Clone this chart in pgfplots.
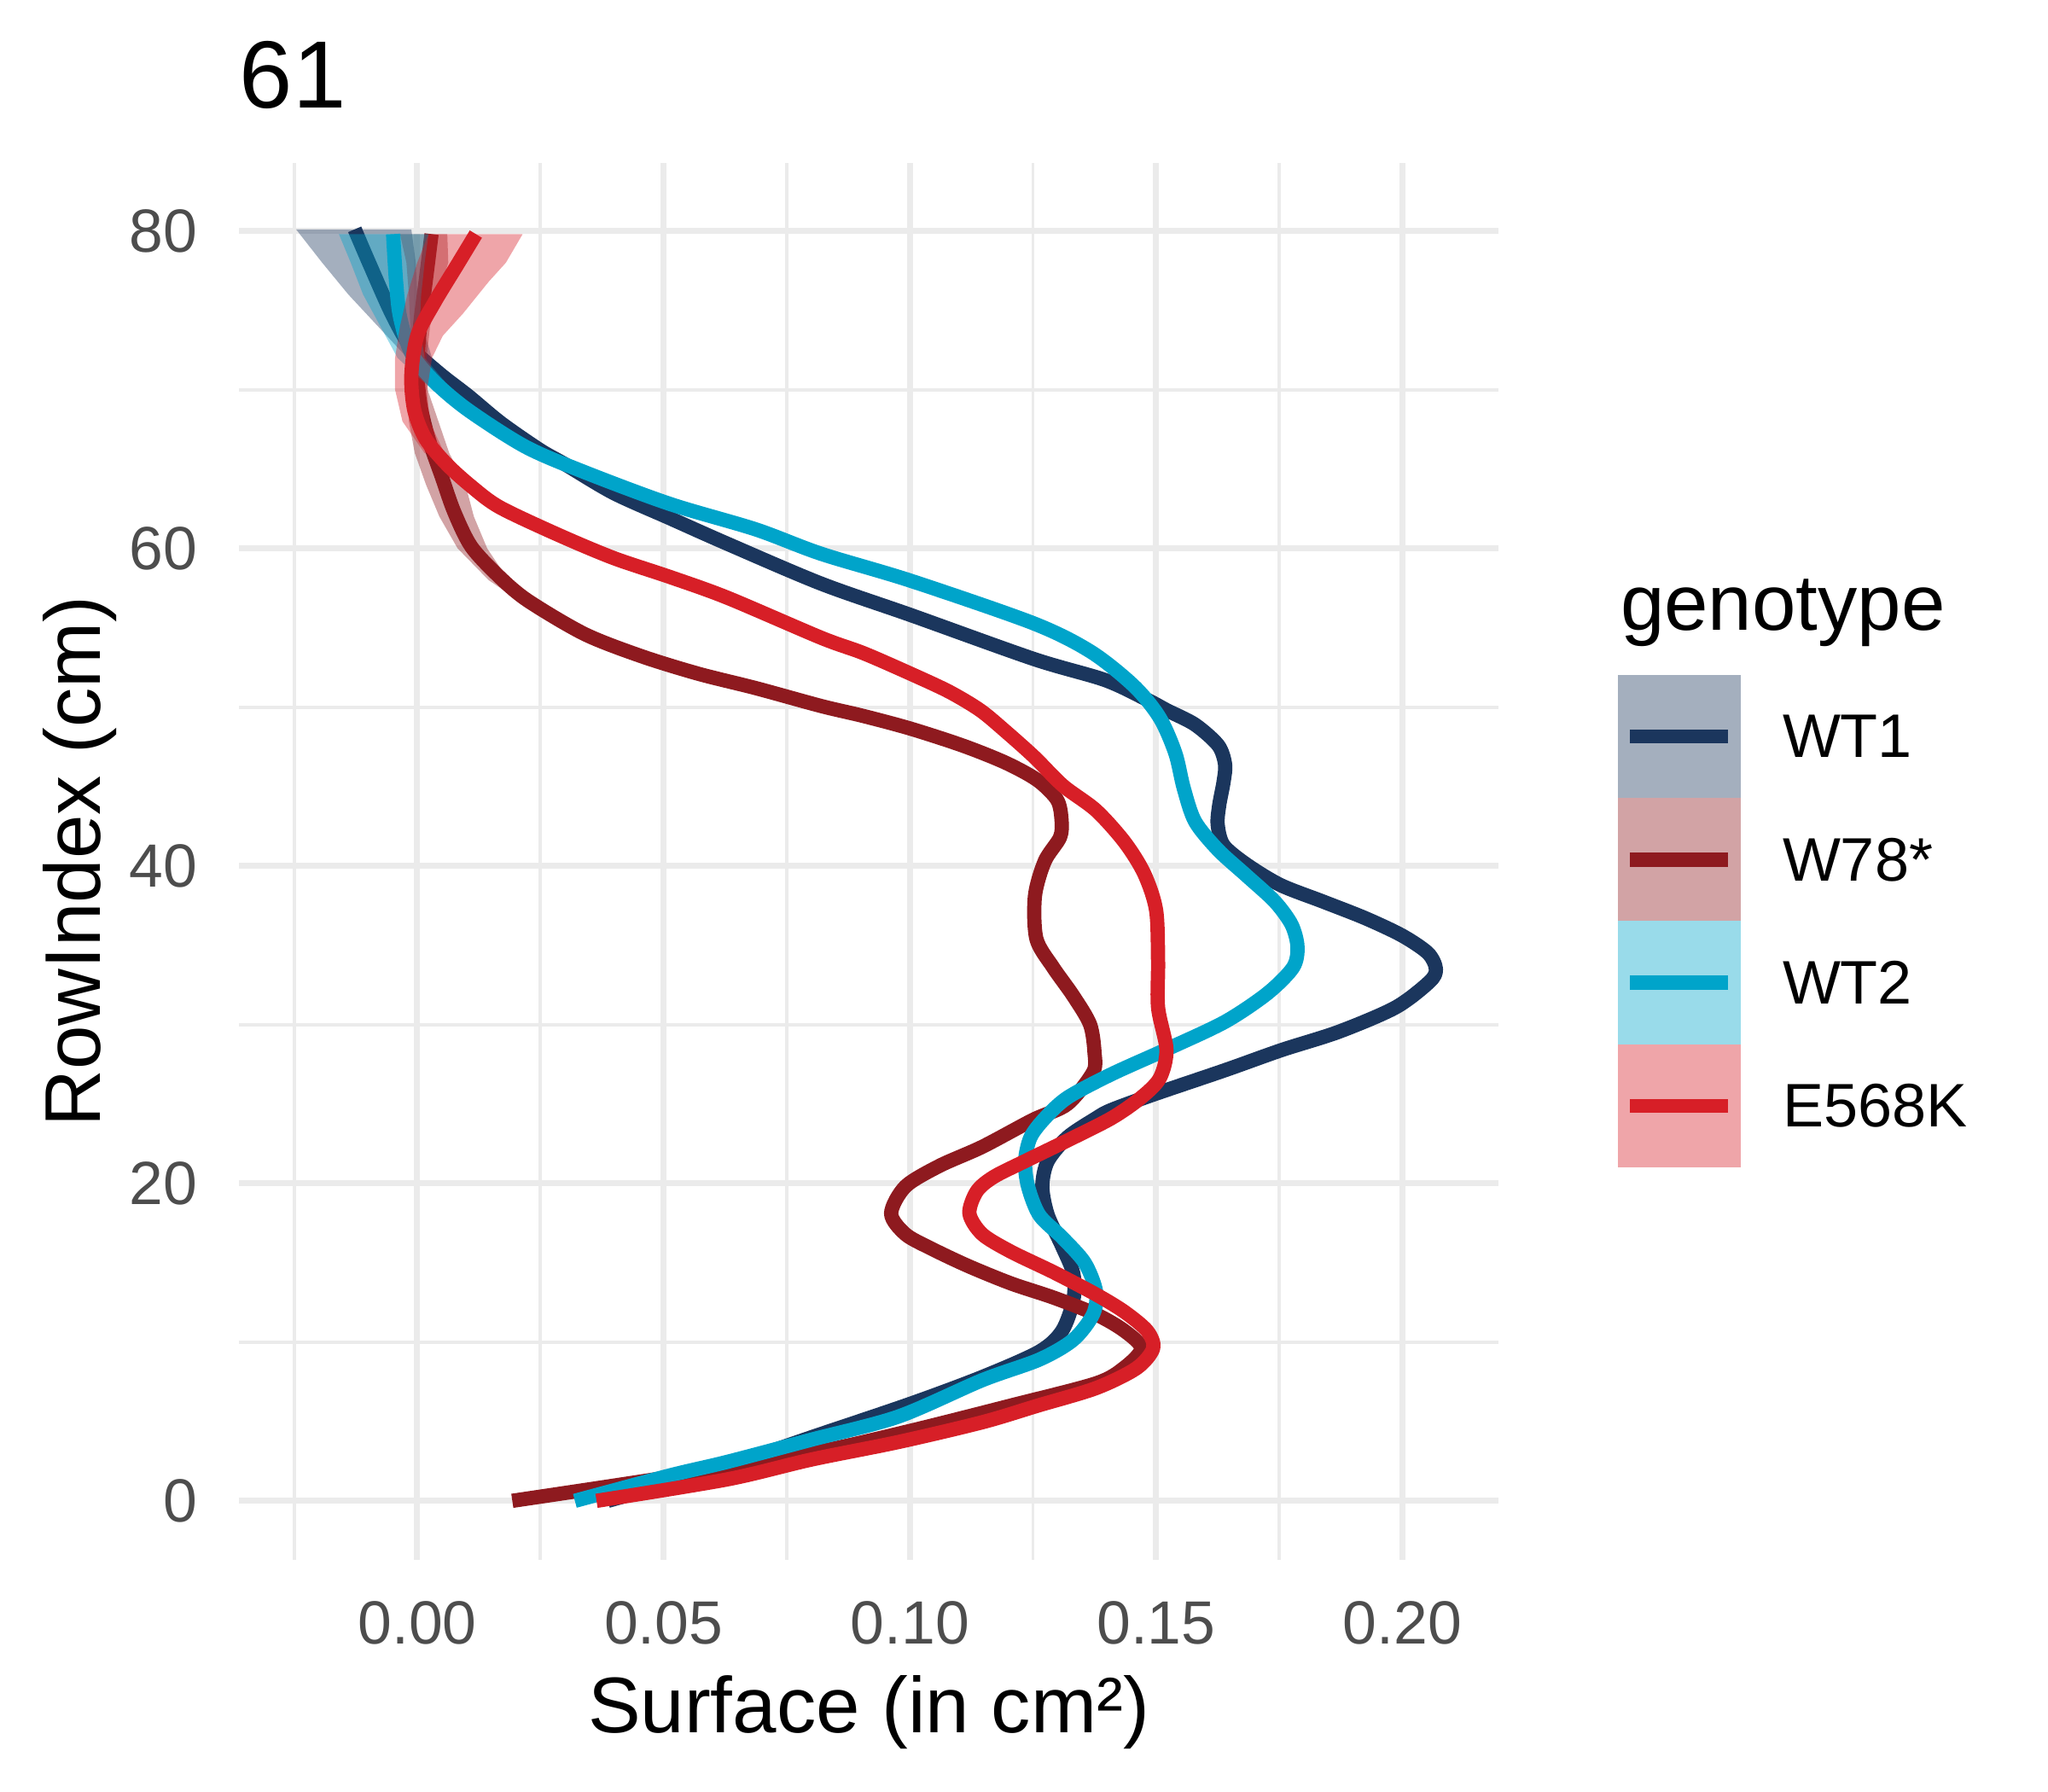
\documentclass[border=0pt]{standalone}
\usepackage{fontspec}
\setmainfont{Liberation Sans}
\usepackage{pgfplots}
\pgfplotsset{compat=1.18}
\definecolor{cwta}{HTML}{1B365D}
\definecolor{cwsb}{HTML}{8E1A1F}
\definecolor{cwtb}{HTML}{00A4CA}
\definecolor{cek}{HTML}{D71F27}
\definecolor{gridc}{HTML}{EBEBEB}
\definecolor{tickc}{HTML}{4D4D4D}
\begin{document}
\begin{tikzpicture}
\path[use as bounding box] (0,0) rectangle (480pt,420pt);
\begin{axis}[
  name=ax, at={(56pt,54.4pt)}, anchor=south west,
  scale only axis, width=295.2pt, height=327.4pt,
  xmin=-0.0362, xmax=0.2195, ymin=-3.72, ymax=84.28,
  xtick={0,0.05,0.1,0.15,0.2}, xticklabels={0.00,0.05,0.10,0.15,0.20},
  minor xtick={-0.025,0.025,0.075,0.125,0.175},
  ytick={0,20,40,60,80}, yticklabels={0,20,40,60,80},
  minor ytick={10,30,50,70},
  grid=both,
  major grid style={draw=gridc, line width=1.4pt},
  minor grid style={draw=gridc, line width=0.75pt},
  axis line style={draw=none},
  major tick length=0pt, minor tick length=0pt,
  tick label style={font=\fontsize{14.3}{16}\selectfont, text=tickc},
  xticklabel style={anchor=base, yshift=-19.8pt},
  yticklabel style={anchor=east, inner sep=0pt, xshift=-9.6pt},
  xlabel={Surface (in cm²)}, ylabel={RowIndex (cm)},
  label style={font=\fontsize{18.5}{22}\selectfont},
  xlabel style={at={(axis description cs:0.5,-0.124)}, anchor=base},
  ylabel style={at={(axis description cs:-0.110,0.5)}, anchor=base, rotate=0},
  title={61},
  every axis title shift=0pt,
  title style={at={(axis description cs:0,1.0395)}, anchor=base west, inner sep=0pt, font=\fontsize{22.4}{26}\selectfont},
  every axis plot/.append style={line join=round},
]
% WT1 ribbon and line
\addplot[draw=none, fill=cwta, fill opacity=0.4] coordinates {
(-0.0246,80.1) (-0.0193,78) (-0.014,76) (-0.008,74) (-0.002,72) (0.0062,70) (0.0158,68) (0.025,66)
(0.027,66) (0.0186,68) (0.0098,70) (0.003,72) (0.001,74) (0.000,76) (-0.0003,78) (-0.0012,80.1)};
\addplot[cwta, line width=3.34pt, smooth, tension=0.5] table {
0.0387 0
0.050 1.0
0.064 2.3
0.080 4.0
0.100 6.1
0.1147 7.8
0.1263 9.4
0.1309 10.7
0.1332 12.65
0.1332 14.3
0.1309 16.05
0.1280 18.0
0.1269 19.8
0.1280 21.4
0.1320 22.9
0.1378 24.1
0.1409 24.62
0.1495 25.6
0.1640 27.13
0.1755 28.4
0.1871 29.55
0.1986 31.08
0.2055 32.7
0.2068 33.5
0.2052 34.5
0.2000 35.6
0.1925 36.7
0.1839 37.75
0.1752 38.8
0.1683 40.1
0.1637 41.3
0.1625 42.6
0.1628 43.8
0.1637 45.3
0.1640 46.4
0.1626 47.6
0.1579 48.9
0.1522 49.8
0.1484 50.43
0.1397 51.7
0.1252 53.03
0.1002 55.8
0.0820 57.78
0.0629 60.3
0.0513 61.9
0.0398 63.5
0.0300 65.3
0.0249 66.2
0.0170 67.9
0.0104 69.6
0.0046 71.0
-0.0012 72.65
-0.0052 74.8
-0.0098 78.0
-0.0127 80.1
};
% W78* ribbon and line
\addplot[draw=none, fill=cwsb, fill opacity=0.4] coordinates {
(-0.0035,79.8) (-0.0022,78) (-0.0017,76) (-0.0014,74) (-0.0017,72) (-0.0015,70) (-0.0017,68) (-0.0005,66) (0.0018,64) (0.0045,62) (0.0082,60) (0.0145,58) (0.024,56)
(0.028,56) (0.0185,58) (0.0142,60) (0.0115,62) (0.0098,64) (0.0065,66) (0.0043,68) (0.0021,70) (0.0019,72) (0.0026,74) (0.0043,76) (0.0063,78) (0.0061,79.8)};
\addplot[cwsb, line width=3.34pt, smooth, tension=0.5] table {
0.0193 0
0.0513 1.5
0.0800 3.0
0.1000 4.4
0.1205 6.0
0.1378 7.4
0.1436 8.4
0.1470 9.6
0.1436 10.7
0.1378 11.75
0.1292 12.8
0.1205 13.7
0.1118 14.8
0.1043 15.9
0.0991 16.8
0.0962 18.1
0.0991 19.8
0.1060 21.1
0.1147 22.3
0.1250 24.0
0.1320 25.0
0.1372 27.0
0.1375 28.2
0.1366 30.0
0.1332 31.8
0.1291 33.6
0.1257 35.4
0.1254 38.1
0.1274 40.3
0.1305 41.8
0.1308 42.9
0.1299 44.16
0.1259 45.4
0.1195 46.49
0.1109 47.56
0.1002 48.64
0.0906 49.44
0.0820 50.07
0.0687 51.2
0.0571 52.1
0.0456 53.2
0.0340 54.6
0.0225 56.7
0.0167 58.2
0.0110 60.1
0.0075 62.3
0.0050 64.5
0.0023 66.9
0.0006 69.1
0.0000 71.4
0.0006 74.1
0.0017 76.8
0.0029 79.8
};
% WT2 ribbon and line
\addplot[draw=none, fill=cwtb, fill opacity=0.4] coordinates {
(-0.0159,79.8) (-0.0135,78) (-0.011,76) (-0.0075,74) (-0.004,72) (0.003,70) (0.0115,68) (0.019,66.6)
(0.0215,66.6) (0.0145,68) (0.007,70) (0.0015,72) (0.0005,74) (0.0008,76) (0.0015,78) (0.0023,79.8)};
\addplot[cwtb, line width=3.34pt, smooth, tension=0.5] table {
0.0320 0
0.0513 1.6
0.0629 2.45
0.0800 3.85
0.0976 5.3
0.1147 7.6
0.1263 8.9
0.1332 10.15
0.1372 11.75
0.1378 13.2
0.1355 15.0
0.1309 16.6
0.1263 18.0
0.1240 19.8
0.1234 21.4
0.1245 22.9
0.1274 24.1
0.1320 25.4
0.1409 26.87
0.1524 28.48
0.1640 30.18
0.1726 31.97
0.1778 33.6
0.1787 34.9
0.1775 36.3
0.1741 37.75
0.1683 39.4
0.1626 41.0
0.1579 42.8
0.1556 44.9
0.1539 47.1
0.1507 49.35
0.1455 51.33
0.1368 53.48
0.1252 55.27
0.1002 57.96
0.0820 59.66
0.0687 61.2
0.0513 62.8
0.0340 64.8
0.0220 66.4
0.0104 68.7
0.0035 70.5
-0.0012 72.3
-0.0035 74.6
-0.0043 76.8
-0.0049 79.8
};
% E568K ribbon and line
\addplot[draw=none, fill=cek, fill opacity=0.4] coordinates {
(0.0023,79.8) (0.0,78) (-0.002,76) (-0.0035,74) (-0.0045,72) (-0.0045,70) (-0.003,68) (0.0015,66)
(0.0055,66) (0.0025,68) (0.002,70) (0.003,72) (0.0052,73.4) (0.0093,74.8) (0.0145,76.8) (0.018,78) (0.0214,79.8)};
\addplot[cek, line width=3.34pt, smooth, tension=0.5] table {
0.0364 0
0.0629 1.35
0.0800 2.6
0.0976 3.7
0.1147 4.95
0.1260 6.0
0.1378 7.1
0.1460 8.35
0.1494 9.6
0.1482 10.7
0.1436 11.9
0.1378 13.0
0.1292 14.4
0.1205 15.7
0.1147 16.8
0.1121 18.1
0.1136 19.5
0.1170 20.4
0.1234 21.4
0.1320 22.7
0.1409 24.1
0.1467 25.34
0.1507 26.6
0.1521 28.4
0.1504 31.08
0.1504 34.0
0.1500 37.2
0.1476 39.5
0.1436 41.5
0.1378 43.5
0.1311 45.05
0.1253 46.85
0.1195 48.46
0.1143 49.8
0.1080 50.97
0.1002 52.1
0.0906 53.4
0.0820 54.37
0.0629 56.9
0.0513 58.2
0.0398 59.4
0.0283 60.9
0.0167 62.6
0.0110 63.9
0.0060 65.3
0.0017 66.9
-0.0006 68.7
-0.0012 70.9
0.0000 73.4
0.0035 75.5
0.0081 77.85
0.0119 79.8
};
\end{axis}
% legend
\node[anchor=base west, inner sep=0pt, font=\fontsize{18.5}{22}\selectfont] at (379.6pt,272.2pt) {genotype};
\fill[cwta!40] (379.2pt,232.95pt) rectangle (408pt,261.8pt);
\draw[cwta, line width=3.34pt] (382pt,247.375pt) -- (405pt,247.375pt);
\node[anchor=west, inner sep=0pt, font=\fontsize{14.4}{16}\selectfont] at (417.6pt,247.375pt) {WT1};
\fill[cwsb!40] (379.2pt,204.1pt) rectangle (408pt,232.95pt);
\draw[cwsb, line width=3.34pt] (382pt,218.525pt) -- (405pt,218.525pt);
\node[anchor=west, inner sep=0pt, font=\fontsize{14.4}{16}\selectfont] at (417.6pt,218.525pt) {W78*};
\fill[cwtb!40] (379.2pt,175.25pt) rectangle (408pt,204.1pt);
\draw[cwtb, line width=3.34pt] (382pt,189.675pt) -- (405pt,189.675pt);
\node[anchor=west, inner sep=0pt, font=\fontsize{14.4}{16}\selectfont] at (417.6pt,189.675pt) {WT2};
\fill[cek!40] (379.2pt,146.4pt) rectangle (408pt,175.25pt);
\draw[cek, line width=3.34pt] (382pt,160.825pt) -- (405pt,160.825pt);
\node[anchor=west, inner sep=0pt, font=\fontsize{14.4}{16}\selectfont] at (417.6pt,160.825pt) {E568K};
\end{tikzpicture}
\end{document}
